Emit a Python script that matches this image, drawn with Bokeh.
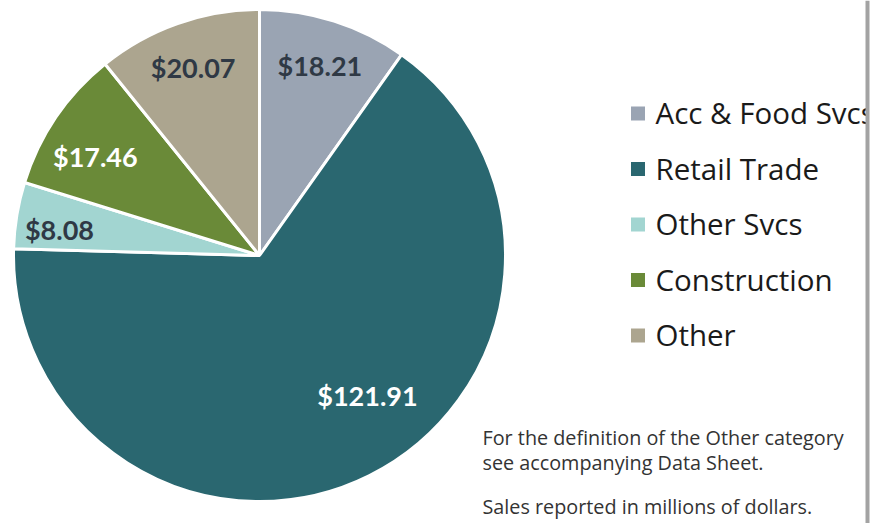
import math
from bokeh.plotting import figure
from bokeh.models import ColumnDataSource, Range1d
from bokeh.core.properties import value
from bokeh.embed import file_html
from bokeh.resources import INLINE

# ---- data ----
categories = ["Acc & Food Svcs", "Retail Trade", "Other Svcs", "Construction", "Other"]
sales = [18.21, 121.91, 8.08, 17.46, 20.07]
labels = ["$18.21", "$121.91", "$8.08", "$17.46", "$20.07"]
colors = ["#9aa4b3", "#2a6770", "#a2d5d1", "#6a8a38", "#aca58f"]
label_colors = ["#2f3945", "#ffffff", "#2f3945", "#ffffff", "#2f3945"]
notes = ["For the definition of the Other category",
         "see accompanying Data Sheet.",
         "Sales reported in millions of dollars."]

# ---- layout constants ----
W, H = 893, 523
CX, CY_S, R = 259, 255, 246          # pie centre (screen y) and radius
label_r = [0.81, 0.72, 0.82, 0.78, 0.81]
label_shift_deg = [0, -11, -2, -3, 0]  # best-fit label placement offsets

def sy(y):  # screen y -> data y
    return H - y

total = sum(sales)
starts, ends, lx, ly = [], [], [], []
cum = 0.0
for i, v in enumerate(sales):
    a0 = cum / total * 2 * math.pi
    cum += v
    a1 = cum / total * 2 * math.pi
    starts.append(math.pi / 2 - a0)
    ends.append(math.pi / 2 - a1)
    mid = (a0 + a1) / 2 + math.radians(label_shift_deg[i])
    lx.append(CX + label_r[i] * R * math.sin(mid))
    ly.append(sy(CY_S) + label_r[i] * R * math.cos(mid))

src = ColumnDataSource(dict(cat=categories, start=starts, end=ends, color=colors,
                            lab=labels, lx=lx, ly=ly, lc=label_colors))

p = figure(width=W, height=H, output_backend="svg", toolbar_location=None,
           x_range=Range1d(0, W), y_range=Range1d(0, H), min_border=0)
p.axis.visible = False
p.grid.visible = False
p.outline_line_color = None
p.background_fill_color = "white"
p.border_fill_color = "white"

p.wedge(x=CX, y=sy(CY_S), radius=R, start_angle="start", end_angle="end",
        direction="clock", fill_color="color", line_color="white", line_width=3,
        source=src)

p.text(x="lx", y="ly", text="lab", text_color="lc", text_font=value("Lato"),
       text_font_style="bold", text_font_size="27px", text_align="center",
       text_baseline="middle", source=src)

# legend
leg_y = [sy(113 + 55.5 * i) for i in range(len(categories))]
p.rect(x=[637.5] * len(categories), y=leg_y, width=14, height=14,
       fill_color=colors, line_color=None)
p.text(x=[655] * len(categories), y=[v + 1 for v in leg_y], text=categories,
       text_color="#1a1a1a", text_font=value("Open Sans"), text_font_size="29.5px",
       text_baseline="middle")

# notes
p.text(x=[482] * 3, y=[sy(437), sy(462), sy(506)], text=notes, text_color="#333333",
       text_font=value("Open Sans"), text_font_size="19.8px", text_baseline="middle")

# page edge on the right
p.quad(left=[868], right=[W], bottom=[0], top=[H], fill_color="white", line_color=None)
p.quad(left=[865], right=[869], bottom=[0], top=[H], fill_color="#a3a3a3", line_color=None)

open("out.html", "w").write(file_html(p, INLINE))
